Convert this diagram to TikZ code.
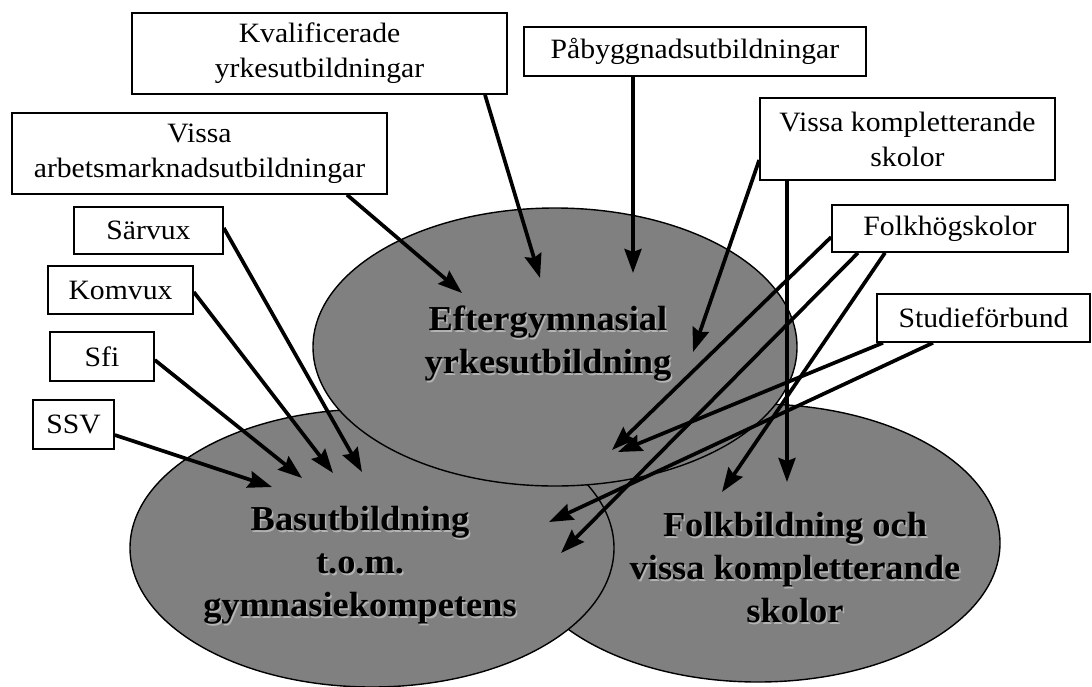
\documentclass[tikz,border=0pt]{standalone}
\usepackage{fontspec}
\setmainfont{Liberation Serif}
\newfontfamily\boxfont[FakeStretch=1.06]{Liberation Serif}
\newfontfamily\elfont[FakeStretch=1.04]{Liberation Serif Bold}
\usetikzlibrary{shapes.geometric,arrows.meta}
\definecolor{elgray}{HTML}{808080}
\definecolor{shgray}{HTML}{B4B4B4}
\begin{document}
\begin{tikzpicture}[x=1pt,y=-1pt,
  lbox/.style={draw=black, line width=1.6pt, fill=white, inner sep=0pt, align=center,
    font=\boxfont\fontsize{28}{35}\selectfont},
  circ/.style={ellipse, draw=black, line width=1.4pt, fill=elgray,
    minimum width=484pt, minimum height=278pt, inner sep=0pt},
  eltext/.style={align=center, inner sep=0pt, font=\elfont\fontsize{35}{43}\selectfont},
  arr/.style={line width=3.7pt, -{Stealth[length=24pt,width=17pt,inset=3pt]}}
]
\useasboundingbox (0,0) rectangle (1092,686);
\fill[white] (0,0) rectangle (1092,686);

% ellipses
\node[circ] (e3) at (758,543) {};
\node[circ] (e2) at (372,548) {};
\node[circ] (e1) at (555,347) {};

% ellipse texts (with light shadow)
\node[eltext, text=shgray] (e1s) at (549.5,345.5) {Eftergymnasial\\yrkesutbildning};
\node[eltext] (e1t) at (548,344) {Eftergymnasial\\yrkesutbildning};
\node[eltext, text=shgray] (e2s) at (361.5,567) {Basutbildning\\t.o.m.\\gymnasiekompetens};
\node[eltext] (e2t) at (360,565.5) {Basutbildning\\t.o.m.\\gymnasiekompetens};
\node[eltext, text=shgray] (e3s) at (796.5,569.5) {Folkbildning och\\vissa kompletterande\\skolor};
\node[eltext] (e3t) at (795,568) {Folkbildning och\\vissa kompletterande\\skolor};

% label boxes
\node[lbox, minimum width=375pt, minimum height=81pt] (kval) at (319.5,53.5) {Kvalificerade\\yrkesutbildningar};
\node[lbox, minimum width=342pt, minimum height=49pt] (pab) at (695,51.5) {Påbyggnadsutbildningar};
\node[lbox, minimum width=375pt, minimum height=81pt] (arb) at (199.5,153.5) {Vissa\\arbetsmarknadsutbildningar};
\node[lbox, minimum width=295pt, minimum height=82pt] (komp) at (907.5,139) {Vissa kompletterande\\skolor};
\node[lbox, minimum width=149pt, minimum height=47pt] (sarv) at (148.5,230.5) {Särvux};
\node[lbox, minimum width=236pt, minimum height=47pt] (folk) at (950,228.5) {Folkhögskolor};
\node[lbox, minimum width=145pt, minimum height=48pt] (komv) at (120.5,290) {Komvux};
\node[lbox, minimum width=213pt, minimum height=48pt] (stud) at (983.5,318) {Studieförbund};
\node[lbox, minimum width=104pt, minimum height=49pt] (sfi) at (102,356.5) {Sfi};
\node[lbox, minimum width=81pt, minimum height=49pt] (ssv) at (73.5,424.5) {SSV};

% arrow targets
\coordinate (tkval) at (540,278);
\coordinate (tpab) at (633,273);
\coordinate (tarb) at (462,293);
\coordinate (tkomp1) at (693,352);
\coordinate (tkomp2) at (787,482);
\coordinate (tfolk1) at (612,450);
\coordinate (tfolk2) at (561,553);
\coordinate (tfolk3) at (722,492);
\coordinate (tstud1) at (618,452);
\coordinate (tstud2) at (549,522);
\coordinate (tsarv) at (362,472);
\coordinate (tkomv) at (333,473);
\coordinate (tsfi) at (302,478);
\coordinate (tssv) at (272,487);

% arrows
\draw[arr] ([xshift=165.5pt]kval.south) -- (tkval);
\draw[arr] ([xshift=-62pt]pab.south) -- (tpab);
\draw[arr] ([xshift=147.5pt]arb.south) -- (tarb);
\draw[arr] ([yshift=-21pt]komp.west) -- (tkomp1);
\draw[arr] ([xshift=-120.5pt]komp.south) -- (tkomp2);
\draw[arr] ([yshift=-8.5pt]folk.west) -- (tfolk1);
\draw[arr] ([xshift=-92pt]folk.south) -- (tfolk2);
\draw[arr] ([xshift=-65pt]folk.south) -- (tfolk3);
\draw[arr] ([xshift=-100.5pt]stud.south) -- (tstud1);
\draw[arr] ([xshift=-50.5pt]stud.south) -- (tstud2);
\draw[arr] ([yshift=2.5pt]sarv.east) -- (tsarv);
\draw[arr] ([yshift=-2pt]komv.east) -- (tkomv);
\draw[arr] ([yshift=-3.5pt]sfi.east) -- (tsfi);
\draw[arr] ([yshift=-10.5pt]ssv.east) -- (tssv);
\end{tikzpicture}
\end{document}
